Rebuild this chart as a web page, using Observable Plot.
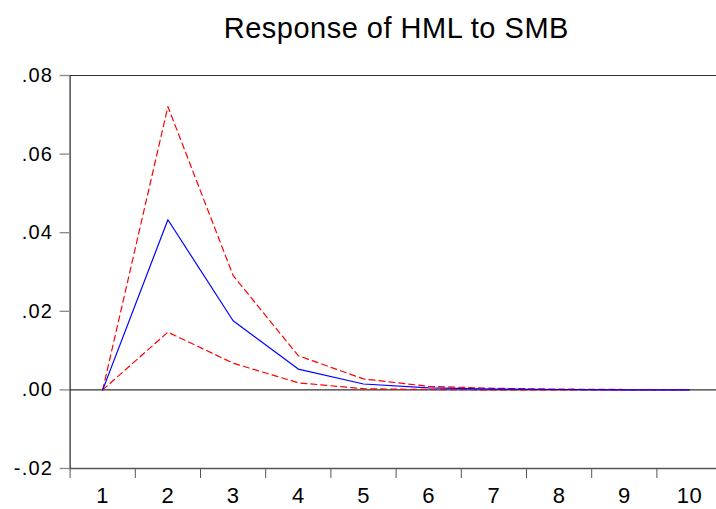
<!DOCTYPE html>
<html>
<head>
<meta charset="utf-8">
<script src="https://cdn.jsdelivr.net/npm/d3@7"></script>
<script src="https://cdn.jsdelivr.net/npm/@observablehq/plot@0.6"></script>
<style>
  html, body { margin: 0; padding: 0; background: #fff; }
  #chart svg { display: block; }
  #chart g[aria-label="y-axis tick label"] text { letter-spacing: 1.2px; }
  #chart g[aria-label="x-axis tick label"] text { letter-spacing: 0.5px; }
  #chart g[aria-label="text"] text { letter-spacing: 0.5px; }
</style>
</head>
<body>
<div id="chart"></div>
<script>
const title = "Response of HML to SMB";
const periods = [1, 2, 3, 4, 5, 6, 7, 8, 9, 10];
const response = [0, 0.0433, 0.0176, 0.0053, 0.0015, 0.0005, 0.0002, 0.0001, 0.0000, 0.0000];
const upperBand = [0, 0.0721, 0.0291, 0.0087, 0.0028, 0.0009, 0.0004, 0.0002, 0.0001, 0.0001];
const lowerBand = [0, 0.0147, 0.0068, 0.0018, 0.0003, 0.0001, 0.0000, 0.0000, 0.0000, 0.0000];
const yTicks = [-0.02, 0, 0.02, 0.04, 0.06, 0.08];
const yTickLabels = ["-.02", ".00", ".02", ".04", ".06", ".08"];
const xTickLabels = ["1", "2", "3", "4", "5", "6", "7", "8", "9", "10"];
const xBoundaries = [0.5, 1.5, 2.5, 3.5, 4.5, 5.5, 6.5, 7.5, 8.5, 9.5];

const rows = (vals) => periods.map((p, i) => ({period: p, value: vals[i]}));

const font = "Arial, 'Liberation Sans', sans-serif";

const chart = Plot.plot({
  width: 716,
  height: 509,
  marginTop: 75,
  marginBottom: 41,
  marginLeft: 69.6,
  marginRight: 0,
  style: {fontFamily: font, background: "#fff", overflow: "hidden"},
  x: {type: "linear", domain: [0.5, 10.5], range: [69.6, 721.6]},
  y: {domain: [-0.02, 0.08], range: [468, 75]},
  marks: [
    Plot.ruleY([0], {stroke: "#000", strokeWidth: 1}),
    Plot.line(rows(upperBand), {x: "period", y: "value", stroke: "#ff0000", strokeWidth: 1.2, strokeDasharray: "6,4"}),
    Plot.line(rows(lowerBand), {x: "period", y: "value", stroke: "#ff0000", strokeWidth: 1.2, strokeDasharray: "6,4"}),
    Plot.line(rows(response), {x: "period", y: "value", stroke: "#0000ff", strokeWidth: 1.2}),
    Plot.ruleY([-0.02], {stroke: "#555", strokeWidth: 1.3}),
    Plot.ruleY([0.08], {stroke: "#333", strokeWidth: 1}),
    Plot.ruleX([0.5], {stroke: "#222", strokeWidth: 1.2}),
    Plot.axisY({
      ticks: yTicks,
      tickFormat: (d) => yTickLabels[yTicks.indexOf(d)],
      tickSize: 10,
      tickPadding: 7,
      fontSize: 20,
      stroke: "#888",
      strokeWidth: 1.3,
      fill: "#000",
      label: null
    }),
    Plot.axisX({
      ticks: xBoundaries,
      tickFormat: () => "",
      tickSize: 10,
      stroke: "#555",
      strokeWidth: 1,
      label: null
    }),
    Plot.axisX({
      ticks: periods,
      tickFormat: (d) => xTickLabels[periods.indexOf(d)],
      tickSize: 0,
      tickPadding: 19,
      fontSize: 22,
      fill: "#000",
      label: null
    }),
    Plot.text([title], {
      frameAnchor: "top",
      dx: 3,
      dy: -58,
      fontSize: 29,
      fill: "#000"
    })
  ]
});

document.getElementById("chart").appendChild(chart);
</script>
</body>
</html>
